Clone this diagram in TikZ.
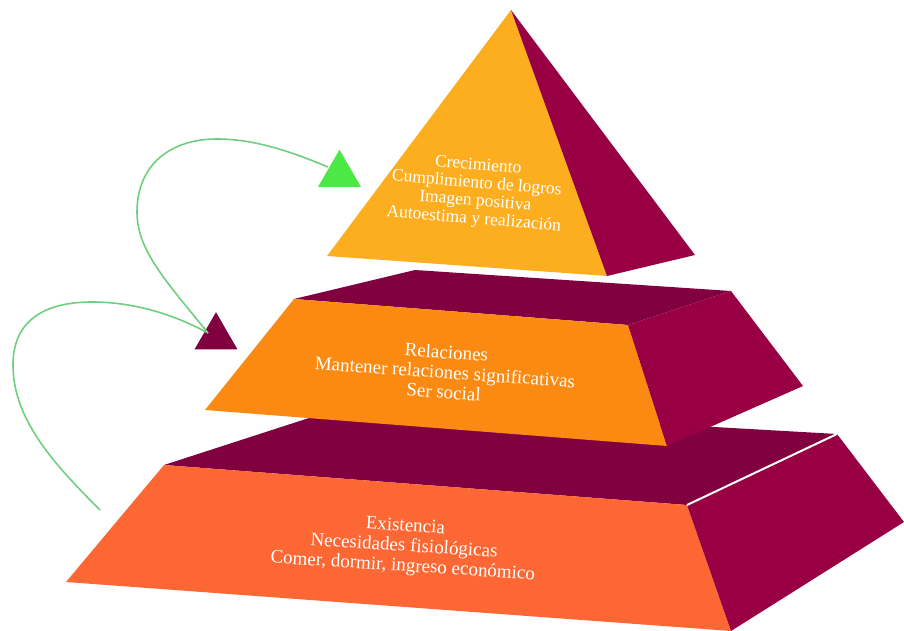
\documentclass[tikz,border=0pt]{standalone}
\usepackage{fontspec}
\setmainfont{Liberation Serif}
\usetikzlibrary{shapes.geometric}
\definecolor{naranjaA}{HTML}{FDAE1F}
\definecolor{naranjaB}{HTML}{FB8A13}
\definecolor{naranjaC}{HTML}{FD6733}
\definecolor{guinda}{HTML}{990044}
\definecolor{guindaOsc}{HTML}{800040}
\definecolor{verde}{HTML}{4CE846}
\definecolor{verdeLinea}{HTML}{6FCF7F}
\begin{document}
\begin{tikzpicture}[x=1pt,y=-1pt,
  texto/.style={text=white,align=center,font=\fontsize{19}{20}\selectfont},
  punta/.style={regular polygon,regular polygon sides=3,minimum size=49.6pt,inner sep=0pt,outer sep=0pt},
  curva/.style={verdeLinea,line width=1.6pt}]
\useasboundingbox (0,0) rectangle (904,631);
% base
\fill[guindaOsc] (164,465) -- (346,406) -- (837,434) -- (687,505) -- cycle;
\fill[naranjaC] (164,465) -- (687,505) -- (731,631) -- (66,582) -- cycle;
\fill[guinda] (687,505) -- (837,434) -- (904,522) -- (731,631) -- cycle;
\draw[white,line width=2pt] (687,505) -- (837,434);
% medio
\fill[guindaOsc] (294,299) -- (415,270) -- (731,291) -- (628,325) -- cycle;
\fill[naranjaB] (294,299) -- (628,325) -- (667,446) -- (205,410) -- cycle;
\fill[guinda] (628,325) -- (731,291) -- (803,386) -- (667,446) -- cycle;
% punta
\fill[naranjaA] (511,10) -- (607,276) -- (327,256) -- cycle;
\fill[guinda] (511,10) -- (695,255) -- (607,276) -- cycle;
\node[texto,rotate=-4.7,font=\fontsize{17.5}{18}\selectfont] (crec) at (476,193) {Crecimiento\\Cumplimiento de logros\\Imagen positiva\\Autoestima y realización};
\node[texto,rotate=-4] (rel) at (445,372) {Relaciones\\Mantener relaciones significativas\\Ser social};
\node[texto,rotate=-3.7] (exis) at (404,547) {Existencia\\Necesidades fisiológicas\\Comer, dormir, ingreso económico};
% flechas
\node[punta,fill=verde] (flechaVerde) at (339.5,174.5) {};
\node[punta,fill=guindaOsc] (flechaGuinda) at (216,337) {};
\coordinate (a0) at (100,510);
\coordinate (a1) at (13,365);
\coordinate (a2) at (92,302);
\coordinate (a3) at (208,333);
\coordinate (b1) at (137,212);
\coordinate (b2) at (217,139);
\coordinate (b3) at (328,167);
\draw[curva] (a0) .. controls (55,465) and (13,420) .. (a1) .. controls (13,320) and (45,302) .. (a2) .. controls (135,302) and (175,315) .. (a3);
\draw[curva] (a3) .. controls (165,280) and (137,250) .. (b1) .. controls (137,165) and (170,139) .. (b2) .. controls (255,139) and (292,152) .. (b3);
\end{tikzpicture}
\end{document}
